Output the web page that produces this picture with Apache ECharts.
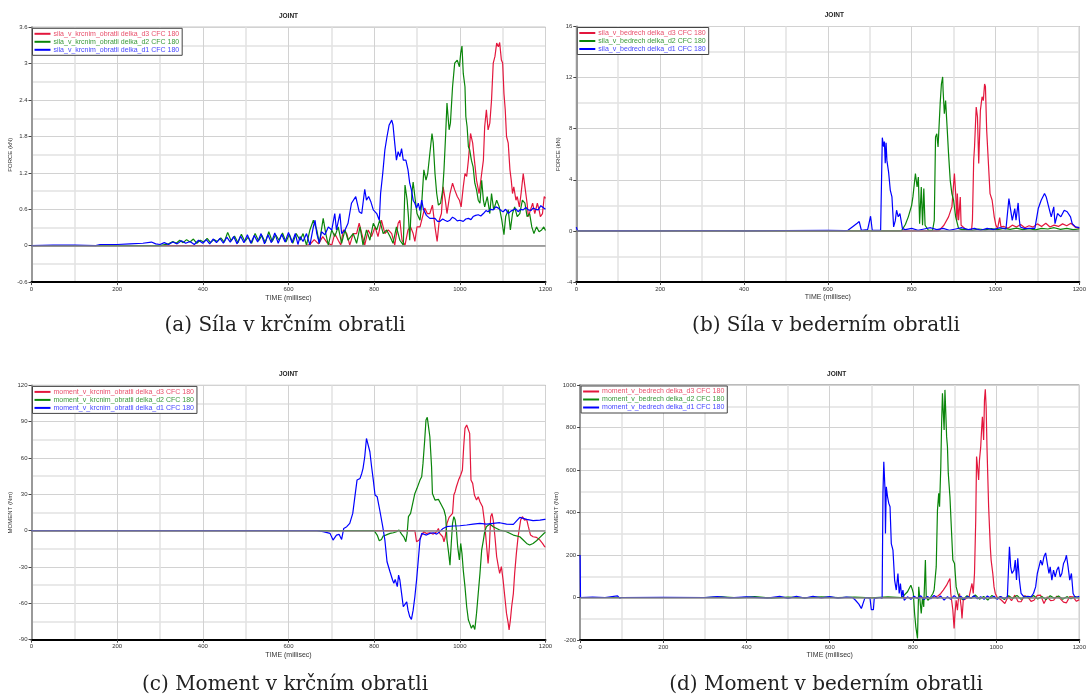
<!DOCTYPE html>
<html>
<head>
<meta charset="utf-8">
<title>JOINT</title>
<script src="https://cdn.jsdelivr.net/npm/echarts/dist/echarts.min.js"></script>
<style>
  html, body { margin: 0; padding: 0; background: #fff; }
  #myChart { width: 1089px; height: 698px; }
</style>
</head>
<body>
<div id="myChart"></div>
<script>
// --- data: [time ms, value] ---
const xRange = [0, 1200, 200]

// (a) sila v krcnim obratli, kN
const namesA = ['sila_v_krcnim_obratli delka_d3 CFC 180', 'sila_v_krcnim_obratli delka_d2 CFC 180', 'sila_v_krcnim_obratli delka_d1 CFC 180']
const yTicksA = [-0.6, 3.6, 0.6]
const redA = [[0,0],[640,0],[650,0.02],[660,0.1],[670,0.03],[680,0.15],[690,0.05],[701,0.01],[708,0.2],[716,0.09],[722,0.01],[728,0.26],[736,0.2],[743,0.01],[751,0.2],[759,0.2],[765,0.37],[771,0.2],[778,0.01],[786,0.26],[794,0.15],[802,0.31],[809,0.15],[817,0.42],[825,0.2],[833,0.26],[841,0.2],[848,0.01],[856,0.37],[860,0.42],[865,0.09],[872,0.01],[879,0.26],[885,0.31],[891,0.2],[895,0.07],[900,0.31],[907,0.31],[913,0.48],[918,0.62],[924,0.53],[930,0.53],[936,0.67],[942,0.31],[947,0.07],[952,0.42],[957,0.53],[961,0.97],[966,0.75],[970,0.53],[977,0.86],[983,1.03],[988,0.92],[994,0.81],[999,0.75],[1003,0.64],[1008,0.97],[1012,1.19],[1016,1.14],[1020,1.41],[1025,1.85],[1030,1.69],[1034,1.41],[1039,1.08],[1045,0.86],[1051,1.19],[1055,1.41],[1058,1.96],[1062,2.24],[1066,1.91],[1070,2.02],[1074,2.4],[1078,3.01],[1082,3.12],[1086,3.34],[1090,3.28],[1093,3.35],[1097,3.06],[1100,3.01],[1103,2.51],[1106,2.24],[1109,1.8],[1113,1.69],[1117,1.25],[1120,1.08],[1123,0.86],[1126,0.97],[1131,0.75],[1134,0.81],[1139,0.64],[1143,0.86],[1148,1.19],[1152,0.97],[1157,0.7],[1160,0.48],[1165,0.59],[1170,0.7],[1175,0.53],[1181,0.7],[1185,0.59],[1188,0.48],[1193,0.53],[1197,0.81],[1200,0.78]]
const greenA = [[0,0],[300,0],[320,0.03],[330,0.07],[338,0.04],[346,0.09],[354,0.05],[362,0.1],[370,0.06],[378,0.11],[386,0.04],[394,0.09],[402,0.06],[410,0.12],[418,0.05],[426,0.1],[434,0.07],[442,0.13],[450,0.06],[458,0.22],[466,0.08],[474,0.16],[482,0.05],[490,0.19],[498,0.07],[506,0.14],[514,0.04],[522,0.2],[530,0.08],[538,0.17],[546,0.05],[554,0.23],[562,0.07],[570,0.18],[578,0.09],[586,0.21],[594,0.06],[602,0.19],[610,0.04],[618,0.2],[627,0.09],[634,0.2],[642,0.01],[650,0.26],[658,0.42],[666,0.26],[672,0.04],[681,0.45],[687,0.2],[693,0.01],[701,0.26],[708,0.15],[716,0.31],[724,0.04],[732,0.26],[739,0.09],[751,0.2],[759,0.04],[767,0.31],[774,0.01],[782,0.26],[790,0.09],[798,0.37],[806,0.26],[813,0.42],[821,0.2],[829,0.26],[837,0.15],[844,0.04],[852,0.31],[860,0.09],[868,0.01],[872,1.0],[877,0.75],[880,0.48],[883,0.09],[888,0.86],[891,1.05],[896,0.75],[900,0.53],[907,0.42],[911,0.7],[916,1.25],[921,1.08],[925,1.19],[930,1.52],[935,1.85],[938,1.69],[942,1.19],[946,0.86],[950,0.67],[955,0.7],[960,0.92],[963,1.25],[967,1.85],[970,2.35],[975,1.91],[978,2.02],[983,2.62],[988,3.01],[994,3.06],[999,2.95],[1002,3.17],[1005,3.29],[1008,2.84],[1012,2.62],[1014,2.13],[1017,1.96],[1020,1.63],[1023,1.58],[1027,1.41],[1031,1.3],[1035,1.03],[1039,0.92],[1043,0.75],[1047,0.7],[1051,1.08],[1055,0.75],[1058,0.64],[1064,0.81],[1070,0.53],[1074,0.86],[1079,0.59],[1086,0.75],[1092,0.64],[1098,0.42],[1103,0.18],[1107,0.48],[1113,0.59],[1118,0.26],[1123,0.53],[1128,0.64],[1134,0.48],[1140,0.53],[1146,0.75],[1152,0.7],[1157,0.48],[1163,0.53],[1168,0.31],[1173,0.2],[1179,0.31],[1185,0.23],[1191,0.26],[1196,0.31],[1200,0.25]]
const blueA = [[0,0],[50,0.01],[100,0.01],[150,0],[160,0.02],[200,0.02],[230,0.03],[260,0.04],[280,0.06],[290,0.03],[300,0.02],[310,0.05],[320,0.02],[330,0.06],[340,0.03],[350,0.08],[360,0.04],[370,0.07],[380,0.02],[390,0.09],[400,0.04],[408,0.1],[416,0.03],[424,0.11],[432,0.05],[440,0.12],[448,0.04],[456,0.14],[464,0.06],[472,0.15],[480,0.03],[488,0.16],[496,0.05],[504,0.18],[512,0.04],[520,0.17],[528,0.06],[536,0.2],[544,0.03],[552,0.18],[560,0.05],[568,0.21],[576,0.04],[584,0.19],[592,0.06],[600,0.22],[608,0.05],[616,0.2],[622,0.02],[627,0.15],[634,0.07],[642,0.2],[650,0.01],[658,0.31],[662,0.42],[666,0.2],[672,0.04],[677,0.23],[685,0.18],[693,0.31],[701,0.26],[708,0.53],[712,0.26],[720,0.53],[724,0.2],[732,0.26],[739,0.37],[747,0.7],[757,0.81],[765,0.56],[771,0.53],[778,0.93],[782,0.75],[787,0.81],[792,0.73],[798,0.59],[806,0.53],[812,0.42],[815,0.86],[820,1.19],[825,1.58],[830,1.8],[835,1.99],[841,2.07],[844,1.99],[848,1.69],[852,1.41],[856,1.55],[860,1.47],[864,1.6],[868,1.41],[874,1.41],[879,1.25],[883,1.03],[887,0.92],[891,0.75],[895,0.7],[899,0.62],[903,0.7],[907,0.58],[911,0.75],[915,0.6],[918,0.62],[922,0.5],[926,0.53],[930,0.45],[934,0.48],[942,0.45],[948,0.4],[953,0.4],[960,0.44],[965,0.42],[971,0.4],[977,0.42],[983,0.47],[988,0.45],[994,0.41],[1000,0.42],[1008,0.4],[1014,0.44],[1020,0.45],[1026,0.43],[1031,0.48],[1037,0.5],[1043,0.51],[1049,0.49],[1055,0.53],[1061,0.58],[1066,0.56],[1072,0.6],[1078,0.59],[1084,0.64],[1090,0.62],[1096,0.58],[1101,0.56],[1107,0.6],[1113,0.53],[1119,0.57],[1125,0.59],[1130,0.61],[1136,0.56],[1142,0.6],[1148,0.59],[1154,0.63],[1160,0.59],[1166,0.58],[1171,0.62],[1177,0.6],[1183,0.59],[1189,0.66],[1196,0.62],[1200,0.6]]

// (b) sila v bedrech, kN
const namesB = ['sila_v_bedrech delka_d3 CFC 180', 'sila_v_bedrech delka_d2 CFC 180', 'sila_v_bedrech delka_d1 CFC 180']
const yTicksB = [-4, 16, 4]
const redB = [[0,0],[860,0],[865,0.02],[877,0.44],[888,1.1],[896,1.88],[902,4.49],[905,2.92],[908,0.83],[909,2.92],[912,0.83],[916,2.66],[918,0.44],[920,0.31],[930,0.1],[943,0.1],[945,0.83],[948,5.53],[950,6.57],[954,9.7],[957,8.92],[960,5.27],[964,9.44],[968,10.5],[971,10.2],[974,11.5],[976,11.3],[979,7.87],[984,4.75],[987,2.92],[992,2.4],[997,1.1],[1001,0.44],[1005,0.18],[1010,1.04],[1013,0.31],[1020,0.35],[1030,0.2],[1040,0.45],[1050,0.3],[1060,0.5],[1070,0.25],[1080,0.4],[1090,0.3],[1100,0.55],[1110,0.35],[1120,0.6],[1130,0.3],[1140,0.45],[1150,0.35],[1160,0.55],[1170,0.4],[1180,0.6],[1190,0.3],[1200,0.2]]
const greenB = [[0,0],[770,0],[776,0.02],[785,0.5],[792,1.1],[800,2.0],[803,2.66],[809,4.49],[813,3.44],[816,4.22],[819,0.57],[823,3.44],[826,0.44],[829,3.31],[832,0.44],[834,0.31],[840,0.05],[850,0.05],[854,0.83],[857,7.35],[860,7.61],[863,6.57],[868,9.96],[871,11.5],[874,12.05],[875,11.0],[877,9.8],[878,9.18],[881,10.2],[885,7.87],[888,6.05],[892,3.96],[896,2.92],[900,2.4],[905,1.1],[912,0.18],[920,0.1],[930,0.12],[945,0.05],[960,0.15],[975,0.08],[990,0.18],[1005,0.1],[1020,0.2],[1035,0.12],[1050,0.22],[1065,0.1],[1080,0.18],[1095,0.08],[1110,0.2],[1125,0.15],[1140,0.25],[1155,0.12],[1170,0.2],[1185,0.1],[1200,0.15]]
const blueB = [[0,0.3],[3,0],[100,0.02],[200,0],[300,0.03],[400,0],[500,0.03],[600,0.05],[640,0.02],[648,0.05],[660,0.35],[670,0.6],[675,0.73],[680,0.05],[695,0.1],[702,1.15],[706,0.05],[726,0.05],[730,7.3],[733,6.6],[735,7.0],[737,5.3],[739,6.9],[741,5.5],[745,4.6],[749,3.2],[753,2.66],[757,0.31],[761,0.8],[764,1.62],[768,1.1],[772,1.36],[778,0.18],[785,0.1],[800,0.2],[815,0.05],[830,0.15],[845,0.25],[860,0.1],[875,0.2],[890,0.05],[905,0.15],[920,0.25],[935,0.1],[950,0.2],[965,0.05],[980,0.2],[995,0.1],[1010,0.25],[1025,0.15],[1032,2.53],[1036,2.4],[1040,0.83],[1046,1.75],[1049,0.83],[1054,2.19],[1057,0.83],[1059,0.31],[1070,0.18],[1080,0.2],[1094,0.2],[1102,1.75],[1109,2.4],[1117,2.92],[1121,2.66],[1126,2.0],[1133,1.1],[1139,1.88],[1142,0.57],[1148,1.36],[1156,1.1],[1164,1.62],[1171,1.5],[1179,1.1],[1183,0.57],[1191,0.31],[1200,0.25]]

// (c) moment v krcnim obratli, Nm
const namesC = ['moment_v_krcnim_obratli delka_d3 CFC 180', 'moment_v_krcnim_obratli delka_d2 CFC 180', 'moment_v_krcnim_obratli delka_d1 CFC 180']
const yTicksC = [-90, 120, 30]
const redC = [[0,0],[895,0],[899,-9.1],[905,-7.7],[911,-3.6],[916,-0.8],[922,-2.2],[930,-1.7],[938,-2.8],[946,-0.8],[950,1.9],[953,-2.2],[960,-5.0],[963,-9.1],[966,-5.0],[970,6.1],[975,11.0],[978,12.1],[983,14.3],[986,29.5],[989,32.2],[992,36.3],[997,41.8],[1002,46.0],[1006,50.1],[1009,69.4],[1012,84.5],[1016,87.3],[1020,87.3],[1023,80.4],[1026,41.8],[1030,39.1],[1034,29.5],[1039,25.3],[1043,28.1],[1047,23.9],[1053,19.8],[1058,6.1],[1062,-10.5],[1066,-27.0],[1069,-13.2],[1072,11.6],[1075,14.3],[1078,8.8],[1082,-5.0],[1086,-21.5],[1090,-29.7],[1093,-35.2],[1097,-29.7],[1101,-40.7],[1105,-54.5],[1109,-68.3],[1113,-76.5],[1115,-82.0],[1118,-73.8],[1121,-62.8],[1125,-51.7],[1128,-35.2],[1132,-18.7],[1136,-5.0],[1142,8.8],[1146,11.6],[1151,8.8],[1156,9.4],[1160,3.3],[1165,-3.6],[1171,-5.0],[1179,-5.5],[1187,-7.7],[1193,-10.5],[1198,-13.2],[1200,-13.5]]
const greenC = [[0,0],[800,0],[807,-3.6],[812,-8.3],[817,-7.2],[821,-4.4],[827,-3.6],[837,-2.2],[845,-1.7],[852,-0.8],[858,0.6],[864,-2.8],[869,-5.0],[874,-9.1],[877,-2.2],[880,11.6],[885,14.3],[890,22.6],[895,30.8],[900,35.0],[907,41.8],[911,44.6],[914,55.6],[918,74.9],[921,91.4],[924,93.6],[927,92.0],[930,77.6],[934,52.8],[936,30.8],[939,29.5],[942,25.3],[946,23.9],[950,25.9],[953,23.9],[957,21.2],[963,17.1],[967,11.6],[970,-7.7],[974,-18.7],[977,-28.4],[980,-10.5],[983,6.1],[986,11.6],[989,8.8],[992,0.6],[995,-13.2],[999,-24.2],[1002,-10.5],[1005,-18.7],[1008,-32.5],[1012,-46.2],[1016,-62.8],[1020,-73.8],[1023,-76.5],[1027,-80.6],[1031,-77.9],[1035,-81.5],[1039,-68.3],[1043,-51.7],[1047,-35.2],[1051,-16.0],[1055,-7.7],[1058,-0.8],[1062,3.3],[1070,5.5],[1078,3.3],[1086,1.9],[1093,0.6],[1109,-0.8],[1125,-3.6],[1140,-5.0],[1148,-7.7],[1156,-10.5],[1163,-11.8],[1171,-10.5],[1179,-8.3],[1187,-5.5],[1198,-1.7],[1200,-1.5]]
const blueC = [[0,0],[666,0],[681,-0.8],[697,-2.2],[704,-7.7],[712,-3.6],[718,-3.0],[724,-7.2],[729,1.9],[736,3.3],[743,6.1],[750,14.3],[755,28.1],[760,41.8],[767,43.2],[771,47.3],[774,51.5],[778,61.1],[782,76.2],[785,77.1],[790,65.2],[794,52.8],[798,41.8],[802,29.5],[807,28.1],[813,17.1],[820,3.3],[825,-7.7],[830,-25.6],[837,-33.9],[843,-40.7],[846,-43.5],[849,-40.2],[854,-46.2],[857,-36.6],[860,-40.7],[864,-51.7],[868,-62.8],[872,-64.2],[876,-58.7],[879,-65.6],[883,-71.0],[887,-73.2],[891,-65.6],[895,-54.5],[899,-40.7],[903,-24.2],[907,-7.7],[911,-2.2],[914,-0.8],[922,-3.6],[930,-2.2],[938,-1.7],[946,-2.8],[953,-0.8],[961,1.9],[969,3.3],[984,3.9],[1000,4.1],[1016,4.7],[1031,5.5],[1047,6.1],[1062,5.5],[1078,6.1],[1093,6.6],[1109,5.5],[1125,5.2],[1140,11.0],[1148,10.2],[1156,9.4],[1171,8.3],[1187,8.8],[1198,9.4],[1200,9.4]]

// (d) moment v bedrech, Nm
const namesD = ['moment_v_bedrech delka_d3 CFC 180', 'moment_v_bedrech delka_d2 CFC 180', 'moment_v_bedrech delka_d1 CFC 180']
const yTicksD = [-200, 1000, 200]
const redD = [[0,0],[850,0],[861,8],[867,19],[873,35],[881,58],[885,74],[889,89],[891,19],[894,-28],[896,-60],[899,-146],[901,-75],[904,-13],[907,-60],[909,-13],[912,19],[916,-44],[918,-99],[921,-13],[928,-5],[935,3],[942,66],[945,19],[948,113],[951,364],[953,663],[956,600],[958,553],[960,647],[963,710],[965,788],[967,851],[970,741],[972,929],[974,980],[976,898],[978,710],[982,427],[986,239],[988,176],[992,113],[995,50],[998,19],[1002,3],[1013,-13],[1021,-28],[1029,5],[1037,-15],[1045,11],[1053,-20],[1060,-20],[1068,8],[1076,3],[1084,-18],[1091,-13],[1099,10],[1107,11],[1115,-28],[1123,3],[1131,-15],[1138,-13],[1146,6],[1154,-5],[1162,-22],[1169,-25],[1177,4],[1185,3],[1193,-18],[1200,-10]]
const greenD = [[0,0],[300,0],[340,3],[380,-2],[420,4],[460,-3],[500,2],[540,-2],[580,3],[620,-1],[660,2],[700,-2],[740,3],[772,0],[779,11],[787,27],[795,58],[799,35],[801,19],[804,-75],[807,-138],[811,-193],[812,-107],[814,50],[817,-13],[820,-75],[823,0],[826,-44],[830,176],[832,3],[836,-13],[842,0],[848,19],[851,35],[856,144],[859,411],[862,490],[864,427],[867,615],[869,820],[871,961],[873,969],[875,788],[877,977],[879,870],[881,757],[883,710],[885,584],[889,474],[893,301],[896,176],[900,160],[904,50],[908,19],[912,0],[920,-10],[930,8],[940,-5],[950,12],[960,-8],[970,5],[980,-12],[990,10],[1000,-6],[1010,4],[1020,-10],[1030,8],[1040,-5],[1050,10],[1060,-8],[1070,6],[1080,-4],[1090,9],[1100,-7],[1110,5],[1120,-10],[1130,8],[1140,-4],[1150,7],[1160,-8],[1170,4],[1180,-6],[1190,5],[1200,-3]]
const blueD = [[0,200],[1,0],[30,2],[60,0],[90,8],[95,-3],[100,0],[200,1],[300,0],[330,4],[360,-2],[400,3],[450,-3],[480,5],[500,-4],[520,6],[540,-3],[560,5],[580,-2],[600,4],[620,-3],[640,2],[655,0],[662,-13],[670,-31],[676,-52],[679,-35],[684,-5],[690,0],[697,-5],[700,-57],[705,-57],[707,-5],[721,0],[726,-5],[728,490],[730,639],[733,505],[734,301],[736,521],[739,474],[742,443],[745,427],[748,254],[752,223],[756,82],[760,35],[764,113],[767,19],[770,66],[773,3],[776,35],[779,-13],[787,3],[795,-8],[803,6],[811,-5],[819,8],[827,-10],[835,5],[843,-6],[851,10],[859,-4],[867,7],[875,-12],[883,4],[891,-8],[899,9],[907,-5],[915,6],[923,-10],[931,5],[939,-3],[947,8],[955,-6],[963,4],[971,-9],[979,7],[987,-4],[995,6],[1003,-8],[1011,5],[1019,-5],[1027,3],[1032,239],[1035,144],[1038,113],[1043,129],[1046,176],[1049,82],[1052,184],[1056,82],[1060,19],[1068,0],[1076,6],[1084,3],[1090,20],[1095,50],[1099,113],[1103,144],[1107,176],[1111,152],[1115,192],[1119,210],[1123,160],[1127,113],[1130,144],[1134,82],[1138,129],[1142,97],[1146,129],[1150,144],[1154,97],[1158,113],[1162,160],[1166,176],[1169,199],[1173,144],[1177,82],[1181,113],[1185,19],[1190,0],[1200,5]]

// --- layout ---
const lineColors = ['#e3173d', '#0a850a', '#0000ff']
const textColors = ['#e8506c', '#3a9a3a', '#4646ff']

const panels = [
  { box: { left: 31.5, top: 27.3, width: 514, height: 254.8 }, yName: 'FORCE (kN)', y: yTicksA, names: namesA, data: [redA, greenA, blueA], caption: '(a) Síla v krčním obratli', capX: 285, capY: 326 },
  { box: { left: 576.3, top: 26.5, width: 516, height: 255.5 }, yName: 'FORCE (kN)', y: yTicksB, names: namesB, data: [redB, greenB, blueB], caption: '(b) Síla v bederním obratli', capX: 826, capY: 326 },
  { box: { left: 31.5, top: 385.4, width: 514, height: 254.3 }, yName: 'MOMENT (Nm)', y: yTicksC, names: namesC, data: [redC, greenC, blueC], caption: '(c) Moment v krčním obratli', capX: 285, capY: 685 },
  { box: { left: 580.1, top: 385, width: 513, height: 255 }, yName: 'MOMENT (Nm)', y: yTicksD, names: namesD, data: [redD, greenD, blueD], caption: '(d) Moment v bederním obratli', capX: 826, capY: 685 }
]

const grid = [], xAxis = [], yAxis = [], legend = [], series = [], graphic = []
const labelStyle = { fontSize: 6, color: '#333', fontFamily: 'Liberation Sans' }

panels.forEach((p, i) => {
  grid.push(Object.assign({ show: true, borderColor: '#777', borderWidth: 1, backgroundColor: '#fff' }, p.box))
  xAxis.push({
    type: 'value', gridIndex: i, min: xRange[0], max: xRange[1], interval: xRange[2],
    name: 'TIME (millisec)', nameLocation: 'middle', nameGap: 12,
    nameTextStyle: { fontSize: 7, color: '#333', fontFamily: 'Liberation Sans' },
    axisLine: { show: true, onZero: false, lineStyle: { color: '#000', width: 2 } },
    axisTick: { show: true, length: 3, lineStyle: { color: '#444' } },
    axisLabel: Object.assign({ margin: 4, showMaxLabel: true, formatter: v => String(v) }, labelStyle),
    splitLine: { show: true, lineStyle: { color: '#d2d2d2', width: 1 } },
    minorTick: { show: false, splitNumber: 2 },
    minorSplitLine: { show: true, lineStyle: { color: '#e2e2e2', width: 1.5 } }
  })
  yAxis.push({
    type: 'value', gridIndex: i, min: p.y[0], max: p.y[1], interval: p.y[2],
    name: p.yName, nameLocation: 'middle', nameGap: 14,
    nameTextStyle: { fontSize: 6, color: '#333', fontFamily: 'Liberation Sans' },
    axisLine: { show: true, onZero: false, lineStyle: { color: '#999', width: 2 } },
    axisTick: { show: true, length: 3, lineStyle: { color: '#444' } },
    axisLabel: Object.assign({ margin: 4, formatter: v => String(+v.toFixed(2)) }, labelStyle),
    splitLine: { show: true, lineStyle: { color: '#d2d2d2', width: 1 } },
    minorTick: { show: false, splitNumber: 2 },
    minorSplitLine: { show: true, lineStyle: { color: '#e2e2e2', width: 1.5 } }
  })
  legend.push({
    orient: 'vertical', left: p.box.left + 1, top: p.box.top + 1,
    backgroundColor: '#fff', borderColor: '#444', borderWidth: 1,
    padding: [2, 3, 2, 2], itemGap: 1, itemWidth: 16, itemHeight: 2, icon: 'rect',
    selectedMode: false,
    data: p.names.map((n, k) => ({ name: n, textStyle: { color: textColors[k] } })),
    textStyle: { fontSize: 7, fontFamily: 'Liberation Sans', padding: [0, 0, 0, -2] }
  })
  p.data.forEach((d, k) => {
    const s = {
      name: p.names[k], type: 'line', xAxisIndex: i, yAxisIndex: i, data: d,
      showSymbol: false, symbol: 'none', animation: false,
      lineStyle: { color: lineColors[k], width: 1.2 }, itemStyle: { color: lineColors[k] }
    }
    // zero line
    if (k === 0) {
      s.markLine = {
        silent: true, symbol: 'none', animation: false, label: { show: false },
        lineStyle: { color: '#8a8a8a', width: 1.5, type: 'solid' },
        data: [{ yAxis: 0 }]
      }
    }
    series.push(s)
  })
  const cx = p.box.left + p.box.width / 2
  graphic.push({
    type: 'text', x: cx, y: p.box.top - 11,
    style: { text: 'JOINT', fill: '#222', font: 'bold 6.5px "Liberation Sans"', textAlign: 'center', textVerticalAlign: 'middle' }
  })
  graphic.push({
    type: 'text', x: p.capX, y: p.capY,
    style: { text: p.caption, fill: '#222', font: '20px "DejaVu Serif"', textAlign: 'center', textVerticalAlign: 'middle' }
  })
})

const chart = echarts.init(document.getElementById('myChart'), null, { renderer: 'canvas' })
chart.setOption({
  backgroundColor: '#fff',
  animation: false,
  grid: grid,
  xAxis: xAxis,
  yAxis: yAxis,
  legend: legend,
  series: series,
  graphic: graphic
})
</script>
</body>
</html>
